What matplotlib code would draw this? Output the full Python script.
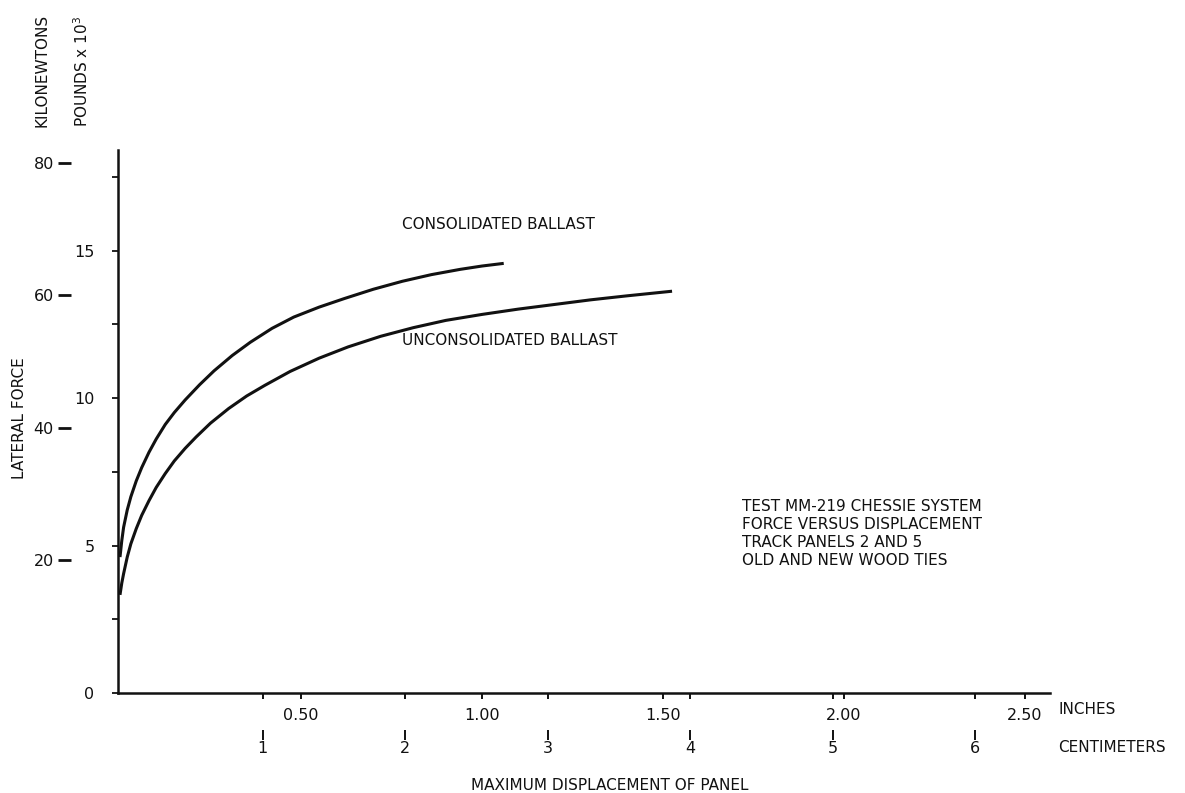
import matplotlib
matplotlib.use("Agg")
import matplotlib.pyplot as plt

# ---- data (inches vs kilonewtons) ----
inch_ticks = [0.5, 1.0, 1.5, 2.0, 2.5]
inch_labels = ["0.50", "1.00", "1.50", "2.00", "2.50"]
cm_ticks = [1, 2, 3, 4, 5, 6]
kn_ticks = [20, 40, 60, 80]
kip_major = [0, 5, 10, 15]
kip_minor = [2.5, 7.5, 12.5, 17.5]

cons_x = [0, 0.005, 0.01, 0.02, 0.03, 0.045, 0.06, 0.08, 0.10, 0.125, 0.15, 0.18, 0.22, 0.26,
          0.31, 0.36, 0.42, 0.48, 0.55, 0.62, 0.70, 0.78, 0.86, 0.94, 1.00, 1.06]
cons_kn = [20.5, 23.0, 25.0, 27.6, 29.6, 32.0, 34.0, 36.3, 38.3, 40.5, 42.3, 44.2, 46.5, 48.6,
           50.9, 52.9, 55.0, 56.7, 58.2, 59.5, 60.9, 62.1, 63.1, 63.9, 64.4, 64.8]

uncons_x = [0, 0.005, 0.01, 0.02, 0.03, 0.045, 0.06, 0.08, 0.10, 0.125, 0.15, 0.18, 0.21, 0.25,
            0.30, 0.35, 0.40, 0.47, 0.55, 0.63, 0.72, 0.81, 0.90, 1.00, 1.10, 1.20, 1.30, 1.40, 1.525]
uncons_kn = [14.8, 16.6, 18.0, 20.5, 22.5, 24.8, 26.8, 29.0, 31.0, 33.1, 35.0, 36.9, 38.6, 40.7,
             42.9, 44.8, 46.4, 48.5, 50.5, 52.2, 53.8, 55.1, 56.2, 57.1, 57.9, 58.6, 59.3, 59.9, 60.6]

KN_PER_KIP = 4.44822
IN_TO_CM = 2.54

plt.rcParams["font.family"] = ["DejaVu Sans"]
INK = "#111111"
FS = 11.5

fig = plt.figure(figsize=(11.85, 7.93), dpi=100)
ax = fig.add_axes([118 / 1185, 100 / 793, 932 / 1185, 543 / 793])

ax.plot(cons_x, cons_kn, color=INK, lw=2.2, solid_capstyle="butt", solid_joinstyle="round")
ax.plot(uncons_x, uncons_kn, color=INK, lw=2.2, solid_capstyle="butt", solid_joinstyle="round")

ax.set_xlim(-0.0055, 2.569)
ax.set_ylim(0, 81.9)

for s in ("top", "right"):
    ax.spines[s].set_visible(False)
for s in ("left", "bottom"):
    ax.spines[s].set_linewidth(1.8)
    ax.spines[s].set_color(INK)

# main x axis: inches
ax.set_xticks(inch_ticks)
ax.set_xticklabels(inch_labels)
ax.set_xticks([c / IN_TO_CM for c in cm_ticks], minor=True)
ax.tick_params(axis="x", which="major", direction="out", length=4, width=1.4, color=INK,
               labelsize=FS, pad=7, labelcolor=INK)
ax.tick_params(axis="x", which="minor", direction="out", length=4, width=1.4, color=INK)

# main y axis (kN) ticks hidden; kips scale on the spine
ax.set_yticks([])

kips = ax.secondary_yaxis("left", functions=(lambda v: v / KN_PER_KIP, lambda v: v * KN_PER_KIP))
kips.set_yticks(kip_major)
kips.set_yticks(kip_minor, minor=True)
kips.spines["left"].set_visible(False)
kips.tick_params(axis="y", which="major", direction="out", length=4, width=1.3, color=INK,
                 labelsize=FS, pad=13, labelcolor=INK)
kips.tick_params(axis="y", which="minor", direction="out", length=4, width=1.3, color=INK)

kn = ax.secondary_yaxis(-60 / 932)
kn.set_yticks(kn_ticks)
kn.spines["left"].set_visible(False)
kn.tick_params(axis="y", direction="in", length=9, width=2.0, color=INK,
               labelsize=FS, pad=3, labelcolor=INK)

# centimetres scale below
cm = ax.secondary_xaxis(-37 / 543, functions=(lambda v: v * IN_TO_CM, lambda v: v / IN_TO_CM))
cm.set_xticks(cm_ticks)
cm.spines["bottom"].set_visible(False)
cm.tick_params(axis="x", direction="out", length=7, width=1.4, color=INK,
               labelsize=FS, pad=1, labelcolor=INK)

# curve labels
ax.text(0.779, 70.7, "CONSOLIDATED BALLAST", fontsize=11, color=INK, ha="left", va="center")
ax.text(0.779, 53.2, "UNCONSOLIDATED BALLAST", fontsize=11, color=INK, ha="left", va="center")

# note
fig.text(742 / 1185, 1 - 499 / 793,
         "TEST MM-219 CHESSIE SYSTEM\nFORCE VERSUS DISPLACEMENT\nTRACK PANELS 2 AND 5\nOLD AND NEW WOOD TIES",
         fontsize=11, color=INK, ha="left", va="top", linespacing=1.25)

# axis titles
fig.text(1058 / 1185, 1 - 709 / 793, "INCHES", fontsize=11, color=INK, ha="left", va="center")
fig.text(1058 / 1185, 1 - 748 / 793, "CENTIMETERS", fontsize=11, color=INK, ha="left", va="center")
fig.text(610 / 1185, 1 - 786 / 793, "MAXIMUM DISPLACEMENT OF PANEL", fontsize=11, color=INK,
         ha="center", va="center")
fig.text(20 / 1185, 1 - 418 / 793, "LATERAL FORCE", fontsize=11, color=INK, rotation=90,
         ha="center", va="center")
fig.text(42 / 1185, 1 - 127 / 793, "KILONEWTONS", fontsize=11, color=INK, rotation=90,
         ha="center", va="bottom")
fig.text(82 / 1185, 1 - 127 / 793, r"POUNDS x 10$^{3}$", fontsize=11, color=INK, rotation=90,
         ha="center", va="bottom")

fig.savefig("out.png", dpi=100, facecolor="white")
